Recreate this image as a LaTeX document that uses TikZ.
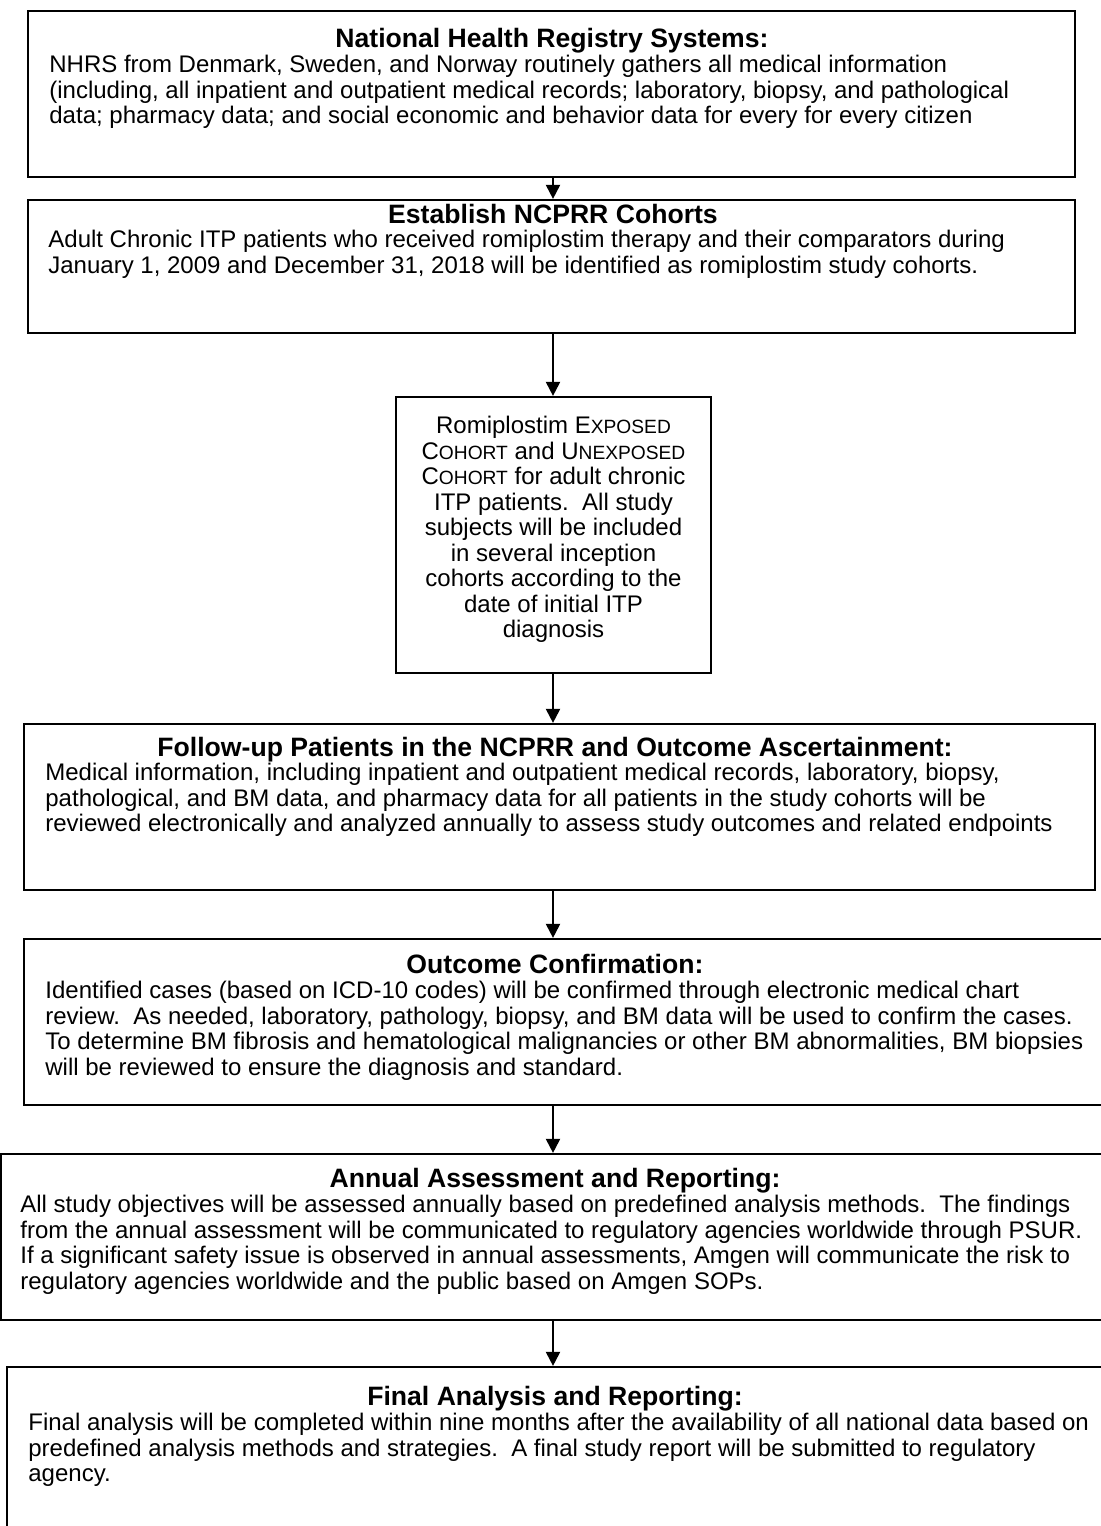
\documentclass[tikz,border=0pt]{standalone}
\usepackage{fontspec}
\setmainfont{Liberation Sans}
\usetikzlibrary{arrows.meta,fit}
\newcommand{\fsc}[2]{#1{\fontsize{9.6}{10}\selectfont#2}}

\begin{document}
\begin{tikzpicture}[x=0.5pt,y=-0.5pt,
  stepbox/.style={draw, line width=1.1pt, inner sep=0pt},
  boxtitle/.style={font=\fontsize{13.3}{15}\selectfont\bfseries, anchor=north, inner sep=0pt},
  boxbody/.style={font=\fontsize{12}{12.75}\selectfont, align=left, anchor=north west, inner sep=0pt},
  flow/.style={-{Triangle[width=7pt,length=7pt]}, line width=1pt}]
  \useasboundingbox (0,0) rectangle (1100,1526);

  % boxes
  \node[stepbox, fit={(28,11) (1075,177)}] (nhrs) {};
  \node[stepbox, fit={(28,200) (1075,333)}] (cohorts) {};
  \node[stepbox, fit={(396,397) (711,673)}] (exposed) {};
  \node[stepbox, fit={(24,724) (1095,890)}] (followup) {};
  \node[stepbox, fit={(24,939) (1104,1105)}] (confirm) {};
  \node[stepbox, fit={(1,1154) (1104,1320)}] (annual) {};
  \node[stepbox, fit={(7,1367) (1104,1532)}] (final) {};

  % texts
  \node[boxtitle] (nhrs-t) at (552,28) {National Health Registry Systems:};
  \node[boxbody] (nhrs-b) at (49,55) {NHRS from Denmark, Sweden, and Norway routinely gathers all medical information\\
    (including, all inpatient and outpatient medical records; laboratory, biopsy, and pathological\\
    data; pharmacy data; and social economic and behavior data for every for every citizen};

  \node[boxtitle] (cohorts-t) at (553,204) {Establish NCPRR Cohorts};
  \node[boxbody] (cohorts-b) at (48,230) {Adult Chronic ITP patients who received romiplostim therapy and their comparators during\\
    January 1, 2009 and December 31, 2018 will be identified as romiplostim study cohorts.};

  \node[boxbody, align=center, anchor=north] (exposed-b) at (553.5,416) {Romiplostim \fsc{E}{XPOSED}\\
    \fsc{C}{OHORT} and \fsc{U}{NEXPOSED}\\
    \fsc{C}{OHORT} for adult chronic\\
    ITP patients.\ \ All study\\
    subjects will be included\\
    in several inception\\
    cohorts according to the\\
    date of initial ITP\\
    diagnosis};

  \node[boxtitle] (followup-t) at (555,737) {Follow-up Patients in the NCPRR and Outcome Ascertainment:};
  \node[boxbody] (followup-b) at (45,763) {Medical information, including inpatient and outpatient medical records, laboratory, biopsy,\\
    pathological, and BM data, and pharmacy data for all patients in the study cohorts will be\\
    reviewed electronically and analyzed annually to assess study outcomes and related endpoints};

  \node[boxtitle] (confirm-t) at (555,954) {Outcome Confirmation:};
  \node[boxbody] (confirm-b) at (45,981) {Identified cases (based on ICD-10 codes) will be confirmed through electronic medical chart\\
    review.\ \ As needed, laboratory, pathology, biopsy, and BM data will be used to confirm the cases.\\
    To determine BM fibrosis and hematological malignancies or other BM abnormalities, BM biopsies\\
    will be reviewed to ensure the diagnosis and standard.};

  \node[boxtitle] (annual-t) at (555,1168) {Annual Assessment and Reporting:};
  \node[boxbody] (annual-b) at (20,1195) {All study objectives will be assessed annually based on predefined analysis methods.\ \ The findings\\
    from the annual assessment will be communicated to regulatory agencies worldwide through PSUR.\\
    If a significant safety issue is observed in annual assessments, Amgen will communicate the risk to\\
    regulatory agencies worldwide and the public based on Amgen SOPs.};

  \node[boxtitle] (final-t) at (555,1386) {Final Analysis and Reporting:};
  \node[boxbody] (final-b) at (28,1413) {Final analysis will be completed within nine months after the availability of all national data based on\\
    predefined analysis methods and strategies.\ \ A final study report will be submitted to regulatory\\
    agency.};

  % arrows
  \coordinate (spine) at (553,0);
  \draw[flow] (nhrs.south -| spine) -- (cohorts.north -| spine);
  \draw[flow] (cohorts.south -| spine) -- (exposed.north -| spine);
  \draw[flow] (exposed.south -| spine) -- (followup.north -| spine);
  \draw[flow] (followup.south -| spine) -- (confirm.north -| spine);
  \draw[flow] (confirm.south -| spine) -- (annual.north -| spine);
  \draw[flow] (annual.south -| spine) -- (final.north -| spine);
\end{tikzpicture}
\end{document}
